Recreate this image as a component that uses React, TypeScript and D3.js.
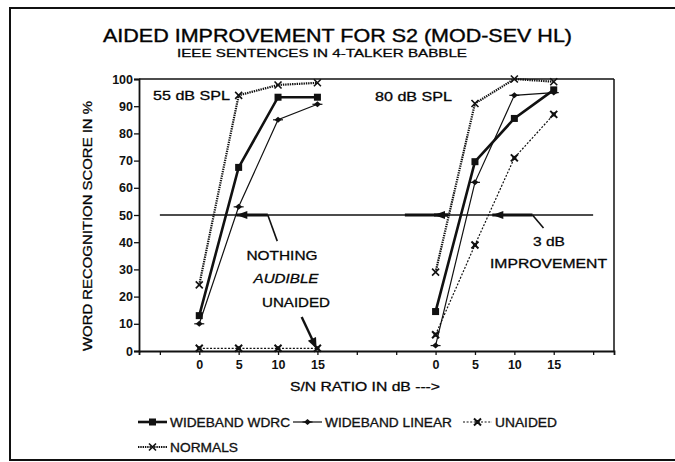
import React, { useEffect, useRef } from "react";
import * as d3 from "d3";

// S/N ratios (dB) tested in each presentation level
const snr = [0, 5, 10, 15];
const levels = ["55 dB SPL", "80 dB SPL"];
const levelOffset = [0, 30]; // right group sits 30 units along the shared axis

// word recognition scores (%)
const wdrc55 = [13, 67.5, 93.3, 93.3];
const linear55 = [10, 53, 85, 90.7];
const unaided55 = [1, 1, 1, 1];
const normals55 = [24.3, 94, 97.8, 98.6];

const wdrc80 = [14.5, 69.6, 85.5, 96];
const linear80 = [2, 62, 94, 95];
const unaided80 = [6, 39, 71, 87];
const normals80 = [29, 91, 100, 99];

const yTicks = [0, 10, 20, 30, 40, 50, 60, 70, 80, 90, 100];
const xTickMarks = [-5, 0, 5, 10, 15, 20, 25, 30, 35, 40, 45, 50];

const seriesNames = ["WIDEBAND WDRC", "WIDEBAND LINEAR", "UNAIDED", "NORMALS"];

const FONT = "'Liberation Sans', Arial, sans-serif";

const styles: any = {
  "WIDEBAND WDRC": { width: 2.6, dash: null, marker: "square" },
  "WIDEBAND LINEAR": { width: 1.2, dash: null, marker: "diamond" },
  "UNAIDED": { width: 1.2, dash: "2,1.6", marker: "bowtie" },
  "NORMALS": { width: 2.2, dash: "1.4,0.9", marker: "cross" },
};

function drawMarker(g: any, kind: string, x: number, y: number) {
  if (kind === "square") {
    g.append("rect").attr("x", x - 3.5).attr("y", y - 3.5).attr("width", 7).attr("height", 7).attr("fill", "#111");
  } else if (kind === "diamond") {
    g.append("path").attr("d", `M${x - 3.5},${y}L${x},${y - 3}L${x + 3.5},${y}L${x},${y + 3}Z`).attr("fill", "#111");
    g.append("line").attr("x1", x - 5).attr("x2", x + 5).attr("y1", y).attr("y2", y).attr("stroke", "#111").attr("stroke-width", 1.2);
  } else if (kind === "bowtie") {
    g.append("path").attr("d", `M${x - 3.5},${y - 3.5}L${x + 3.5},${y + 3.5}M${x + 3.5},${y - 3.5}L${x - 3.5},${y + 3.5}`)
      .attr("stroke", "#111").attr("stroke-width", 2);
    g.append("rect").attr("x", x - 2).attr("y", y - 2).attr("width", 4).attr("height", 4).attr("fill", "#111");
  } else {
    g.append("path").attr("d", `M${x - 3.5},${y - 3.5}L${x + 3.5},${y + 3.5}M${x + 3.5},${y - 3.5}L${x - 3.5},${y + 3.5}`)
      .attr("stroke", "#111").attr("stroke-width", 1.6);
  }
}

export default function App() {
  const ref = useRef<SVGSVGElement>(null);

  useEffect(() => {
    const svg = d3.select(ref.current);
    svg.selectAll("*").remove();

    const x = d3.scaleLinear().domain([-7.65, 52.65]).range([139, 614]);
    const y = d3.scaleLinear().domain([0, 100]).range([351, 79]);

    // outer frame of the scanned figure
    svg.append("rect").attr("x", 10).attr("y", 8).attr("width", 720).attr("height", 452)
      .attr("fill", "none").attr("stroke", "#111").attr("stroke-width", 2);

    // titles
    svg.append("text").attr("x", 337.5).attr("y", 41.5).attr("text-anchor", "middle")
      .attr("font-family", FONT).attr("font-size", 18).attr("textLength", 469).attr("lengthAdjust", "spacingAndGlyphs")
      .attr("stroke", "#111").attr("stroke-width", 0.4)
      .text("AIDED IMPROVEMENT FOR S2 (MOD-SEV HL)");
    svg.append("text").attr("x", 322).attr("y", 56.5).attr("text-anchor", "middle")
      .attr("font-family", FONT).attr("font-size", 11.5).attr("textLength", 290).attr("lengthAdjust", "spacingAndGlyphs")
      .attr("stroke", "#111").attr("stroke-width", 0.3)
      .text("IEEE SENTENCES IN 4-TALKER BABBLE");

    // plot box
    const box = svg.append("g").attr("stroke", "#111").attr("fill", "none").attr("stroke-width", 1.5);
    box.append("line").attr("x1", x.range()[0]).attr("x2", x.range()[1]).attr("y1", y(100)).attr("y2", y(100));
    box.append("line").attr("x1", x.range()[1]).attr("x2", x.range()[1]).attr("y1", y(100)).attr("y2", y(0));

    // y axis
    const yAxis = svg.append("g").attr("transform", `translate(${x.range()[0]},0)`)
      .call(d3.axisLeft(y).tickValues(yTicks).tickSize(5).tickPadding(1));
    yAxis.select(".domain").attr("stroke", "#111").attr("stroke-width", 1.8);
    yAxis.selectAll(".tick line").attr("stroke", "#111").attr("stroke-width", 1.3);
    yAxis.selectAll("text").attr("font-family", FONT).attr("font-size", 12.5).attr("font-weight", "bold").attr("fill", "#111");

    // x axis: one shared axis, labels only under the tested S/N values
    const labelled = new Map<number, string>();
    levelOffset.forEach((off) => snr.forEach((s) => labelled.set(s + off, String(s))));
    const xAxis = svg.append("g").attr("transform", `translate(0,${y(0)})`)
      .call(d3.axisBottom(x).tickValues(xTickMarks).tickSize(4).tickPadding(5)
        .tickFormat((d: any) => labelled.get(d) || ""));
    xAxis.select(".domain").attr("stroke", "#111").attr("stroke-width", 1.8);
    xAxis.selectAll(".tick line").attr("stroke", "#111").attr("stroke-width", 1.3);
    xAxis.selectAll("text").attr("font-family", FONT).attr("font-size", 12.5).attr("font-weight", "bold").attr("fill", "#111");

    // axis titles
    svg.append("text").attr("transform", "translate(92,226) rotate(-90)").attr("text-anchor", "middle")
      .attr("font-family", FONT).attr("font-size", 12).attr("textLength", 250).attr("lengthAdjust", "spacingAndGlyphs")
      .attr("stroke", "#111").attr("stroke-width", 0.3)
      .text("WORD RECOGNITION SCORE IN %");
    svg.append("text").attr("x", 365).attr("y", 391).attr("text-anchor", "middle")
      .attr("font-family", FONT).attr("font-size", 12).attr("textLength", 150).attr("lengthAdjust", "spacingAndGlyphs")
      .attr("stroke", "#111").attr("stroke-width", 0.3)
      .text("S/N RATIO IN dB --->");

    // level labels
    svg.append("text").attr("x", 153).attr("y", 99.5).attr("font-family", FONT).attr("font-size", 12)
      .attr("stroke", "#111").attr("stroke-width", 0.3)
      .attr("textLength", 77).attr("lengthAdjust", "spacingAndGlyphs").text(levels[0]);
    svg.append("text").attr("x", 375).attr("y", 101).attr("font-family", FONT).attr("font-size", 12)
      .attr("stroke", "#111").attr("stroke-width", 0.3)
      .attr("textLength", 77).attr("lengthAdjust", "spacingAndGlyphs").text(levels[1]);

    // 50% criterion line
    svg.append("line").attr("x1", x(-5)).attr("x2", x(50)).attr("y1", y(50)).attr("y2", y(50))
      .attr("stroke", "#111").attr("stroke-width", 1.5);

    // series
    const groups = [
      { off: levelOffset[0], vals: [wdrc55, linear55, unaided55, normals55] },
      { off: levelOffset[1], vals: [wdrc80, linear80, unaided80, normals80] },
    ];
    const line = d3.line<[number, number]>().x((d) => x(d[0])).y((d) => y(d[1]));
    const plot = svg.append("g");
    groups.forEach((grp) => {
      grp.vals.forEach((vals, i) => {
        const st = styles[seriesNames[i]];
        const pts: [number, number][] = snr.map((s, j) => [s + grp.off, vals[j]]);
        plot.append("path").attr("d", line(pts)).attr("fill", "none").attr("stroke", "#111")
          .attr("stroke-width", st.width).attr("stroke-dasharray", st.dash);
        pts.forEach((p) => drawMarker(plot, st.marker, x(p[0]), y(p[1])));
      });
    });

    // annotation arrows along the 50% line
    const ann = svg.append("g").attr("stroke", "#111").attr("fill", "#111");
    const arrowLeft = (tip: number, tailEnd: number) => {
      ann.append("line").attr("x1", x(tip)).attr("x2", x(tailEnd)).attr("y1", y(50)).attr("y2", y(50)).attr("stroke-width", 3);
      const tx = x(tip), ty = y(50);
      ann.append("path").attr("d", `M${tx},${ty}L${tx + 11},${ty - 4}L${tx + 11},${ty + 4}Z`).attr("stroke", "none");
    };
    arrowLeft(4.7, 8.7);
    ann.append("line").attr("x1", x(8.7)).attr("y1", y(50)).attr("x2", x(9.9)).attr("y2", y(40.4)).attr("stroke-width", 1.6);

    ann.append("line").attr("x1", x(26.1)).attr("x2", x(31.6)).attr("y1", y(50)).attr("y2", y(50)).attr("stroke-width", 3);
    arrowLeft(29.8, 31.6);
    arrowLeft(37.2, 42.3);
    ann.append("line").attr("x1", x(42.3)).attr("y1", y(50)).attr("x2", x(43.7)).attr("y2", y(45.2)).attr("stroke-width", 1.6);

    // arrow down to the unaided 15 dB point
    const ax1 = x(13.0), ay1 = y(12.5), ax2 = x(14.9), ay2 = y(0.8);
    const ang = Math.atan2(ay2 - ay1, ax2 - ax1);
    ann.append("line").attr("x1", ax1).attr("y1", ay1).attr("x2", ax2 - 8 * Math.cos(ang)).attr("y2", ay2 - 8 * Math.sin(ang)).attr("stroke-width", 2.4);
    const p1 = [ax2 - 11 * Math.cos(ang) + 4.5 * Math.sin(ang), ay2 - 11 * Math.sin(ang) - 4.5 * Math.cos(ang)];
    const p2 = [ax2 - 11 * Math.cos(ang) - 4.5 * Math.sin(ang), ay2 - 11 * Math.sin(ang) + 4.5 * Math.cos(ang)];
    ann.append("path").attr("d", `M${ax2},${ay2}L${p1[0]},${p1[1]}L${p2[0]},${p2[1]}Z`).attr("stroke", "none");

    // annotation text
    const note = (tx: number, ty: number, s: string, w: number, italic = false) =>
      svg.append("text").attr("x", tx).attr("y", ty).attr("text-anchor", "middle").attr("font-family", FONT)
        .attr("font-size", 12.5).attr("font-style", italic ? "italic" : "normal")
        .attr("stroke", "#111").attr("stroke-width", 0.3)
        .attr("textLength", w).attr("lengthAdjust", "spacingAndGlyphs").text(s);
    note(282, 260, "NOTHING", 71);
    note(286, 283, "AUDIBLE", 65, true);
    note(296, 306.5, "UNAIDED", 68);
    note(549, 246, "3 dB", 32);
    note(548.5, 268, "IMPROVEMENT", 117);

    // legend
    const legend = [
      { name: seriesNames[0], lx: 138, ly: 422, w: 120 },
      { name: seriesNames[1], lx: 293, ly: 422, w: 127 },
      { name: seriesNames[2], lx: 463, ly: 422, w: 62 },
      { name: seriesNames[3], lx: 138, ly: 447, w: 68 },
    ];
    const lg = svg.append("g");
    legend.forEach((item) => {
      const st = styles[item.name];
      lg.append("line").attr("x1", item.lx).attr("x2", item.lx + 29).attr("y1", item.ly).attr("y2", item.ly)
        .attr("stroke", "#111").attr("stroke-width", st.width).attr("stroke-dasharray", st.dash);
      drawMarker(lg, st.marker, item.lx + 14.5, item.ly);
      lg.append("text").attr("x", item.lx + 32).attr("y", item.ly + 4.5).attr("font-family", FONT).attr("font-size", 12)
        .attr("stroke", "#111").attr("stroke-width", 0.3)
        .attr("textLength", item.w).attr("lengthAdjust", "spacingAndGlyphs").attr("fill", "#111").text(item.name);
    });
  }, []);

  return (
    <svg ref={ref} width={675} height={462} style={{ display: "block", position: "absolute", left: 0, top: 0, background: "#fff" }} />
  );
}
